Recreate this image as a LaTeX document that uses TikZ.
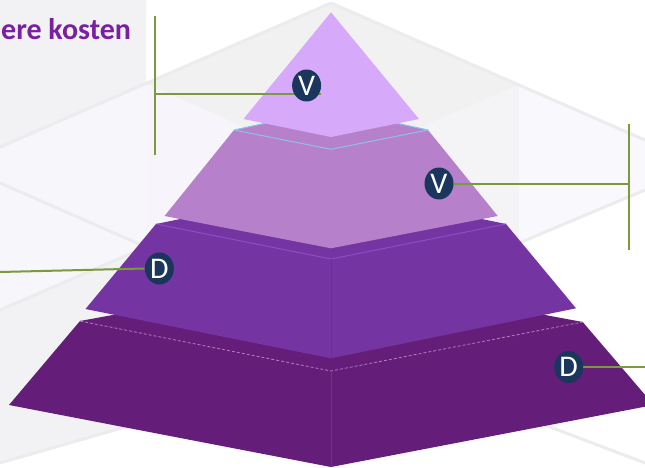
\documentclass[tikz,border=0pt]{standalone}
\usepackage{fontspec}
\setmainfont{Carlito}
\usetikzlibrary{shapes.geometric}
\definecolor{bgL}{HTML}{F7F6FA}
\definecolor{bgG}{HTML}{F2F2F4}
\definecolor{bgTop}{HTML}{F1F1F2}
\definecolor{bgLF}{HTML}{F7F5FB}
\definecolor{bgRF}{HTML}{F4F4F7}
\definecolor{bgR}{HTML}{F9F8FC}
\definecolor{bgLine}{HTML}{ECECEE}
\definecolor{layA}{HTML}{D6A9FB}
\definecolor{layB}{HTML}{B681CA}
\definecolor{layC}{HTML}{7434A2}
\definecolor{layD}{HTML}{641D78}
\definecolor{edgeBlue}{HTML}{8FC0E8}
\definecolor{edgeC}{HTML}{8B4CC0}
\definecolor{edgeD}{HTML}{B07FC0}
\definecolor{vertC}{HTML}{6A2E96}
\definecolor{vertD}{HTML}{74308A}
\definecolor{navy}{HTML}{1B365D}
\definecolor{olive}{HTML}{7B9A3B}
\definecolor{titlePurple}{HTML}{7B1FA2}
\pgfdeclarelayer{back}
\pgfdeclarelayer{mid}
\pgfsetlayers{back,mid,main}
\tikzset{
  badge/.style={ellipse, fill=navy, text=white, minimum width=29pt, minimum height=32pt,
    inner sep=0pt, font=\fontsize{30}{30}\selectfont},
  gline/.style={draw=olive, line width=2pt},
  bgstroke/.style={draw=bgLine, line width=3pt},
}
\begin{document}
\begin{tikzpicture}[x=1pt,y=-1pt]
\useasboundingbox (0,0) rectangle (645,468);
\clip (0,0) rectangle (645,468);
\begin{pgfonlayer}{back}
% background
\fill[white] (0,0) rectangle (645,468);
\fill[bgL] (0,0) -- (146,0) -- (146,421) -- (0,463) -- cycle;
\fill[bgG] (0,0) -- (146,0) -- (146,84) -- (0,147) -- cycle;
\fill[bgG] (0,310) -- (146,247) -- (146,421) -- (0,463) -- cycle;
\fill[bgTop] (331,3) -- (146,84) -- (331,166) -- (519,85) -- cycle;
\fill[bgLF] (146,84) -- (331,166) -- (331,330) -- (146,247) -- cycle;
\fill[bgRF] (331,166) -- (519,85) -- (519,243) -- (331,325) -- cycle;
\fill[bgR] (519,85) -- (645,140) -- (645,190) -- (519,243) -- cycle;
\draw[bgstroke] (331,3) -- (0,147);
\draw[bgstroke] (331,3) -- (645,140);
\draw[bgstroke] (0,183) -- (146,247);
\draw[bgstroke] (0,310) -- (146,247);
\draw[bgstroke] (519,243) -- (645,190);
\draw[bgstroke] (0,463) -- (146,421);
\draw[bgstroke] (545,425) -- (645,463);
% bottom layer
\fill[layD] (80,321) -- (331,275) -- (582.7,322) -- (653.7,405) -- (331,467) -- (9,405) -- cycle;
\draw[edgeD, line width=0.8pt, dash pattern=on 3pt off 2pt] (80,321) -- (331,371) -- (582.7,322);
\draw[vertD, line width=0.8pt] (331,371) -- (331,467);
% third layer
\fill[layC] (156,224) -- (331,188) -- (506,224) -- (576,308.3) -- (331,358.3) -- (85.5,309) -- cycle;
\draw[edgeC, line width=1pt] (156,224) -- (331,259) -- (506,224);
\draw[vertC, line width=0.8pt] (331,259) -- (331,358.3);
% second layer
\fill[layB] (234,130) -- (331,109) -- (428,130) -- (497.7,216) -- (331,248.3) -- (164.5,216) -- cycle;
\draw[edgeBlue, line width=1pt, line join=round] (234,130) -- (331,149.3) -- (428,130) -- (331,109) -- cycle;
% top layer
\fill[layA] (331,12.3) -- (419,119) -- (331,137) -- (243.5,119) -- cycle;
\end{pgfonlayer}
% badges
\node[badge] (v1) at (306.6,85.5) {V};
\node[badge] (v2) at (439,183.5) {V};
\node[badge] (d1) at (159.4,268.5) {D};
\node[badge] (d2) at (568.7,367) {D};
% bracket coordinates
\coordinate (lt) at (155.3,15.7);
\coordinate (lb) at (155.3,155.3);
\coordinate (lm) at (155.3,93.7);
\coordinate (rt) at (629,124.3);
\coordinate (rb) at (629,250);
\coordinate (rm) at (629,183.5);
\coordinate (dl) at (0,272);
\coordinate (dr) at (645,367);
\begin{pgfonlayer}{mid}
\draw[gline] (lt) -- (lb);
\draw[gline] (lm) -- (lm -| v1.east);
\draw[gline] (rt) -- (rb);
\draw[gline] (v2.east) -- (rm);
\draw[gline] (dl) -- (d1.west);
\draw[gline] (d2.east) -- (dr);
\end{pgfonlayer}
% title fragment
\node[anchor=base west, inner sep=0pt, text=titlePurple, font=\fontsize{30}{30}\selectfont\bfseries] (title) at (1,39.3) {ere kosten};
\end{tikzpicture}
\end{document}
